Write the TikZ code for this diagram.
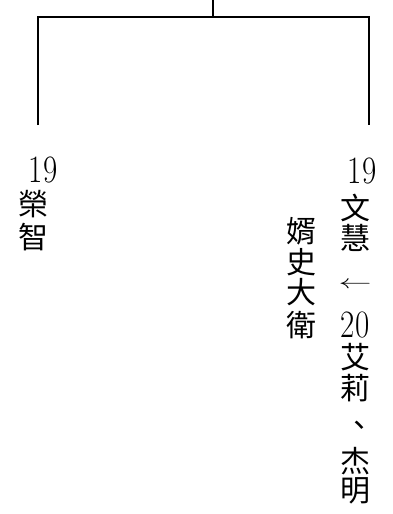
\documentclass[tikz,border=0pt]{standalone}
\usepackage{fontspec}
\newfontfamily\cjk{Noto Sans CJK TC}
\begin{document}
\begin{tikzpicture}[x=1pt,y=-1pt]
	\tikzstyle{Line} = [line width=1.6pt]
	\tikzstyle{Hanzi} = [inner sep=0pt,font=\cjk\fontsize{30}{30}\selectfont]
	\tikzstyle{Num} = [inner sep=0pt,font=\fontsize{31}{31}\selectfont]
	\useasboundingbox (0,0) rectangle (392,514);
	\coordinate (top) at (213,0);
	\coordinate (mid) at (213,17);
	\coordinate (lefttop) at (38,17);
	\coordinate (righttop) at (369,17);
	\coordinate (leftend) at (38,125);
	\coordinate (rightend) at (369,125);
	\draw[Line] (top)--(mid);
	\draw[Line] (leftend)--(lefttop)--(righttop)--(rightend);
	% left branch
	\node[Num] (lnum) at (43,170) {\scalebox{1}[1.25]{19}};
	\node[Hanzi] (rong) at (33,204) {榮};
	\node[Hanzi] (zhi) at (33,237) {智};
	% right branch
	\node[Num] (rnum) at (362,171) {\scalebox{1}[1.25]{19}};
	\node[Hanzi] (wen) at (355,208) {文};
	\node[Hanzi] (hui) at (355,238) {慧};
	\node[inner sep=0pt] (arrow) at (355,285) {\scalebox{3.3}[1.9]{$\leftarrow$}};
	\node[Num] (gnum) at (355,325) {\scalebox{1}[1.25]{20}};
	\node[Hanzi] (ai) at (355,357) {艾};
	\node[Hanzi] (li) at (355,388) {莉};
	\node[Hanzi] (comma) at (359,429) {、};
	\node[Hanzi] (jie) at (355,461) {杰};
	\node[Hanzi] (ming) at (355,491) {明};
	% son-in-law
	\node[Hanzi] (xu) at (301,231) {婿};
	\node[Hanzi] (shi) at (301,262) {史};
	\node[Hanzi] (da) at (301,292) {大};
	\node[Hanzi] (wei) at (301,325) {衛};
\end{tikzpicture}
\end{document}
